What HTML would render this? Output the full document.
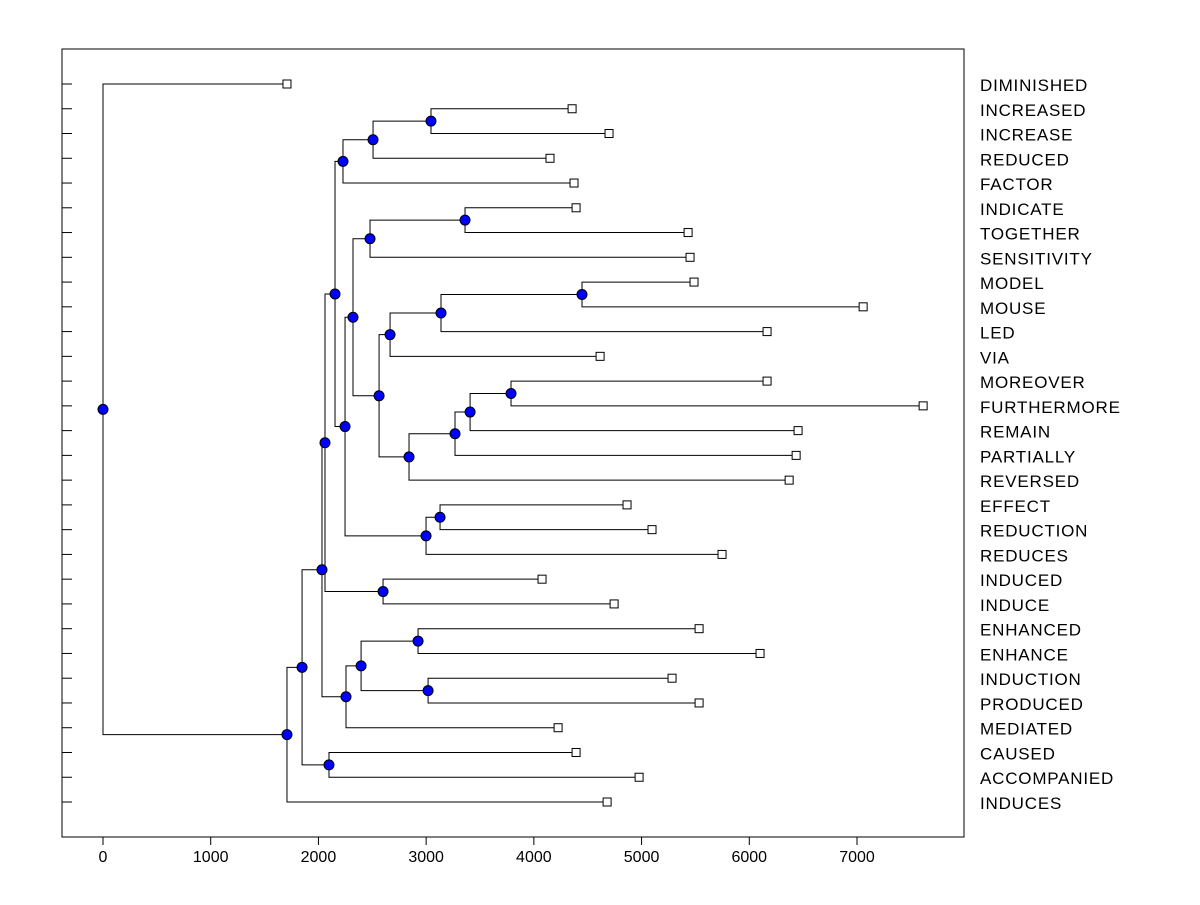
<!DOCTYPE html>
<html><head><meta charset="utf-8"><style>
body{margin:0;background:#fff;}
svg text{font-family:"Liberation Sans",sans-serif;}
</style></head><body>
<svg id="chart" width="1200" height="900" xmlns="http://www.w3.org/2000/svg"></svg>
<script>
const leafNames=["DIMINISHED","INCREASED","INCREASE","REDUCED","FACTOR","INDICATE","TOGETHER","SENSITIVITY","MODEL","MOUSE","LED","VIA","MOREOVER","FURTHERMORE","REMAIN","PARTIALLY","REVERSED","EFFECT","REDUCTION","REDUCES","INDUCED","INDUCE","ENHANCED","ENHANCE","INDUCTION","PRODUCED","MEDIATED","CAUSED","ACCOMPANIED","INDUCES"];
const leafValues=[1708,4355,4698,4150,4373,4392,5432,5450,5487,7057,6165,4615,6165,7614,6453,6435,6370,4865,5097,5747,4076,4745,5534,6100,5283,5534,4225,4392,4977,4680];
// merges: [childA, childB] ; node ids start at 30
const mergeChildren=[[1,2],[30,3],[31,4],[5,6],[33,7],[8,9],[35,10],[36,11],[12,13],[38,14],[39,15],[40,16],[37,41],[34,42],[17,18],[44,19],[43,45],[32,46],[20,21],[47,48],[22,23],[24,25],[50,51],[52,26],[49,53],[27,28],[54,55],[56,29],[0,57]];
const mergeHeights=[3045,2507,2228,3361,2479,4447,3138,2665,3788,3408,3268,2841,2563,2321,3129,2999,2247,2154,2600,2061,2925,3018,2396,2256,2033,2098,1848,1708,0];
const xTicks=[0,1000,2000,3000,4000,5000,6000,7000];

const svg=document.getElementById('chart');
const NS="http://www.w3.org/2000/svg";
const L=62,R=964,T=49,B=837;
const xs=v=>103+v*(857-103)/7000;
const ys=i=>84+i*(802-84)/29;
function mk(tag,attrs,parent){const e=document.createElementNS(NS,tag);for(const k in attrs)e.setAttribute(k,attrs[k]);(parent||svg).appendChild(e);return e;}

const frame=mk('rect',{x:L,y:T,width:R-L,height:B-T,fill:'none',stroke:'#000','stroke-width':1});



xTicks.forEach(v=>{
  const x=xs(v);
  const t=mk('line',{x1:x,y1:B,x2:x,y2:B+8,stroke:'#000'});
  
  
  const tx=mk('text',{x:x,y:B+25,'font-size':16,'text-anchor':'middle',fill:'#000'});
  tx.textContent=v;
  
  
});

const pos=[];
leafNames.forEach((n,i)=>{pos[i]={x:xs(leafValues[i]),y:ys(i)};
  const t=mk('line',{x1:L,y1:ys(i),x2:L+10,y2:ys(i),stroke:'#000'});
  
  
  const lb=mk('text',{x:980,y:ys(i)+7,'font-size':17,'letter-spacing':'0.8',fill:'#000'});
  lb.textContent=n;
  
  
});
const gl=mk('g',{});
const nodes=[];
mergeChildren.forEach((c,k)=>{
  const a=pos[c[0]],b=pos[c[1]];const x=xs(mergeHeights[k]);
  const p={x:x,y:(a.y+b.y)/2};pos[30+k]=p;
  const path=mk('path',{d:`M${a.x},${a.y}H${x}V${b.y}H${b.x}`,fill:'none',stroke:'#000','stroke-width':1},gl);
  
  
  nodes.push(p);
});
leafNames.forEach((n,i)=>{
  const r=mk('rect',{x:pos[i].x-4,y:pos[i].y-4,width:8,height:8,fill:'#fff',stroke:'#000'});
  
  
});
nodes.forEach(p=>{
  const c=mk('circle',{cx:p.x,cy:p.y,r:5,fill:'#0000ff',stroke:'#000'});
  
  
});
</script>
</body></html>
